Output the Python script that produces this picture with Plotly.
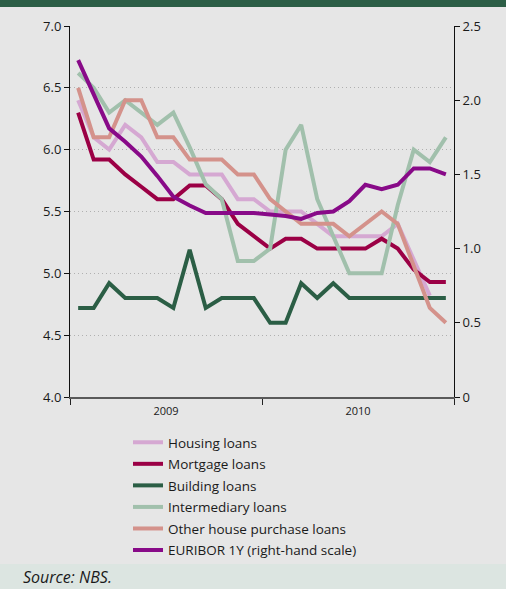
import plotly.graph_objects as go

# Monthly observations, January 2009 - December 2010
months = [f"{y}-{m:02d}" for y in (2009, 2010) for m in range(1, 13)]

housing = [6.4, 6.1, 6.0, 6.2, 6.1, 5.9, 5.9, 5.8, 5.8, 5.8, 5.6, 5.6,
           5.5, 5.5, 5.5, 5.4, 5.3, 5.3, 5.3, 5.3, 5.4, 5.1, 4.82, None]
mortgage = [6.3, 5.92, 5.92, 5.8, 5.7, 5.6, 5.6, 5.71, 5.71, 5.6, 5.4, 5.3,
            5.2, 5.28, 5.28, 5.2, 5.2, 5.2, 5.2, 5.28, 5.2, 5.03, 4.93, 4.93]
building = [4.72, 4.72, 4.92, 4.8, 4.8, 4.8, 4.72, 5.19, 4.72, 4.8, 4.8, 4.8,
            4.6, 4.6, 4.92, 4.8, 4.92, 4.8, 4.8, 4.8, 4.8, 4.8, 4.8, 4.8]
intermediary = [6.62, 6.5, 6.3, 6.4, 6.3, 6.2, 6.3, 6.02, 5.72, 5.6, 5.1, 5.1,
                5.2, 6.0, 6.2, 5.6, 5.3, 5.0, 5.0, 5.0, 5.55, 6.0, 5.9, 6.1]
other_house = [6.5, 6.1, 6.1, 6.4, 6.4, 6.1, 6.1, 5.92, 5.92, 5.92, 5.8, 5.8,
               5.6, 5.5, 5.4, 5.4, 5.4, 5.3, 5.4, 5.5, 5.4, 5.05, 4.72, 4.6]
euribor = [2.27, 2.04, 1.81, 1.72, 1.62, 1.49, 1.35, 1.29, 1.24, 1.24, 1.24, 1.24,
           1.23, 1.22, 1.20, 1.24, 1.25, 1.32, 1.43, 1.40, 1.43, 1.54, 1.54, 1.50]

left_ticks = [4.0, 4.5, 5.0, 5.5, 6.0, 6.5, 7.0]
right_ticks = [0, 0.5, 1.0, 1.5, 2.0, 2.5]
right_labels = ["0", "0.5", "1.0", "1.5", "2.0", "2.5"]

series = [
    ("Housing loans", housing, "#d5a8d2", "y"),
    ("Mortgage loans", mortgage, "#9b0045", "y"),
    ("Building loans", building, "#2b5e45", "y"),
    ("Intermediary loans", intermediary, "#a1c0ac", "y"),
    ("Other house purchase loans", other_house, "#d4928b", "y"),
    ("EURIBOR 1Y (right-hand scale)", euribor, "#880a88", "y2"),
]

FONT = "Open Sans"
TXT = "#1a1a1a"

fig = go.Figure()
for name, vals, color, axis in series:
    fig.add_trace(go.Scatter(
        x=months, y=vals, name=name, yaxis=axis, mode="lines",
        xperiod="M1", xperiodalignment="middle",
        line=dict(color=color, width=4),
        legendgroup=name,
    ))

# plot-area geometry in pixels
W, H = 506, 589
L, R, T, B = 70, 52, 26, 192
pw, ph = W - L - R, H - T - B


def px_x(p):
    return (p - L) / pw


def px_y(p):
    return (H - B - p) / ph


shapes = [
    # dark banner at the top
    dict(type="rect", xref="paper", yref="paper", layer="below",
         x0=px_x(0), x1=px_x(W), y0=px_y(7), y1=px_y(-2),
         fillcolor="#2c5e46", line=dict(width=0)),
    # source strip at the bottom
    dict(type="rect", xref="paper", yref="paper", layer="below",
         x0=px_x(0), x1=px_x(W), y0=px_y(H + 2), y1=px_y(564),
         fillcolor="#dce5e1", line=dict(width=0)),
]

fig.update_layout(
    width=W, height=H,
    margin=dict(l=L, r=R, t=T, b=B, pad=0),
    paper_bgcolor="#e6e6e6",
    plot_bgcolor="#e6e6e6",
    font=dict(family=FONT, size=13, color=TXT),
    shapes=shapes,
    showlegend=True,
    legend=dict(
        x=px_x(128), y=px_y(427), xanchor="left", yanchor="top",
        bgcolor="rgba(0,0,0,0)", font=dict(family=FONT, size=13.5, color=TXT),
        traceorder="grouped", tracegroupgap=1,
        itemwidth=30,
    ),
    xaxis=dict(
        type="date",
        range=["2009-01-01", "2011-01-01"],
        tick0="2009-01-01", dtick="M12",
        ticklabelmode="period", tickformat="%Y",
        ticks="outside", ticklen=6, tickcolor="#222", tickwidth=1,
        ticklabelstandoff=-3,
        showline=True, linecolor="#5a5a5a", linewidth=2,
        showgrid=False, zeroline=False,
        tickfont=dict(size=11, color=TXT),
    ),
    yaxis=dict(
        range=[4, 7], tickvals=left_ticks, tickformat=".1f",
        ticks="outside", ticklen=5, tickcolor="#111",
        showline=True, linecolor="#111", linewidth=1,
        showgrid=True, gridcolor="#b0b0b0", griddash="1px,3px", gridwidth=1,
        zeroline=False, tickfont=dict(size=13, color=TXT),
    ),
    yaxis2=dict(
        overlaying="y", side="right", range=[0, 2.5],
        tickvals=right_ticks, ticktext=right_labels,
        ticks="outside", ticklen=5, tickcolor="#111",
        showline=True, linecolor="#111", linewidth=1,
        showgrid=False, zeroline=False, tickfont=dict(size=13, color=TXT),
    ),
    annotations=[
        dict(text="<i>Source: NBS.</i>", xref="paper", yref="paper",
             x=px_x(21), y=px_y(577), xanchor="left", yanchor="middle",
             showarrow=False, font=dict(family=FONT, size=16, color=TXT)),
    ],
)

fig.write_html("out.html")
